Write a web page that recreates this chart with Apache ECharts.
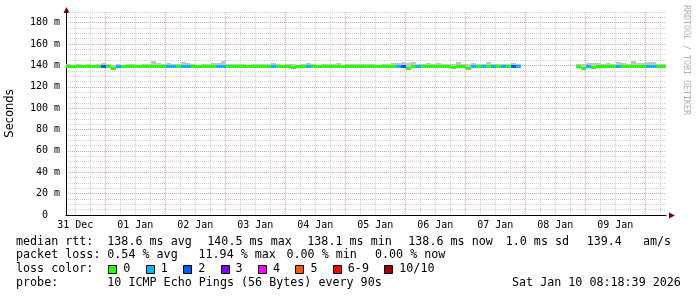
<!DOCTYPE html>
<html>
<head>
<meta charset="utf-8">
<script src="https://cdn.jsdelivr.net/npm/echarts@6/dist/echarts.min.js"></script>
<style>
  html, body { margin: 0; padding: 0; background: #fff; }
  #chart { width: 697px; height: 297px; }
</style>
</head>
<body>
<div id="chart"></div>
<script>
// x values are hours since 31 Dec 00:00, one sample every STEP hours
const START = 8.3
const END = 248.3
const STEP = 2

const dayLabels = ['31 Dec', '01 Jan', '02 Jan', '03 Jan', '04 Jan', '05 Jan', '06 Jan', '07 Jan', '08 Jan', '09 Jan']
const yTicks = [0, 20, 40, 60, 80, 100, 120, 140, 160, 180]

// median rtt (ms), null = no data
const median = [
  138.6, 138.6, 138.7, 138.6, 138.6, 138.6, 138.6, 138.8, 138.6, 137.2,
  138.6, 138.6, 138.6, 138.7, 138.6, 138.6, 138.6, 138.7, 138.6, 138.6,
  138.8, 138.7, 138.6, 138.9, 138.6, 138.6, 138.6, 138.6, 138.7, 138.6,
  138.8, 138.7, 138.6, 138.6, 138.6, 138.6, 138.7, 138.6, 138.6, 138.6,
  138.6, 138.8, 138.6, 138.6, 138.6, 137.7, 138.6, 138.6, 138.8, 138.6,
  138.6, 138.6, 138.6, 138.7, 138.6, 138.6, 138.6, 138.6, 138.7, 138.6,
  138.6, 138.6, 138.6, 138.7, 138.6, 138.6, 138.8, 139.0, 137.2, 138.6,
  138.8, 138.6, 138.6, 138.6, 138.6, 138.7, 138.6, 137.7, 138.6, 138.6,
  137.2, 138.8, 138.6, 138.8, 138.6, 138.8, 138.6, 138.8, 138.6, 139.0,
  138.6, null, null, null, null, null, null, null, null, null,
  null, null, 138.6, 137.2, 138.6, 137.7, 138.6, 138.6, 138.7, 138.6,
  138.8, 138.6, 138.7, 138.6, 138.6, 138.8, 138.8, 138.6, 138.6, 138.6
]

// smoke: lowest and highest ping (ms)
const smokeMin = [
  138.2, 138.1, 138.3, 138.2, 138.2, 138.1, 138.2, 138.3, 138.2, 137.0,
  138.2, 138.1, 138.2, 138.3, 138.2, 138.1, 138.2, 138.2, 138.2, 138.2,
  138.3, 138.2, 138.2, 138.4, 138.2, 138.1, 138.2, 138.2, 138.3, 138.2,
  138.3, 138.2, 138.2, 138.1, 138.2, 138.2, 138.3, 138.2, 138.1, 138.2,
  138.2, 138.3, 138.2, 138.1, 138.2, 137.3, 138.2, 138.2, 138.3, 138.2,
  138.1, 138.2, 138.2, 138.3, 138.2, 138.1, 138.2, 138.2, 138.3, 138.2,
  138.2, 138.1, 138.2, 138.3, 138.2, 138.2, 138.3, 138.5, 137.0, 138.1,
  138.3, 138.2, 138.2, 138.1, 138.2, 138.3, 138.2, 137.3, 138.1, 138.2,
  137.0, 138.3, 138.2, 138.3, 138.2, 138.3, 138.2, 138.3, 138.2, 138.5,
  138.2, null, null, null, null, null, null, null, null, null,
  null, null, 138.2, 137.0, 138.2, 137.3, 138.2, 138.1, 138.3, 138.2,
  138.3, 138.2, 138.3, 138.2, 138.2, 138.3, 138.3, 138.2, 138.2, 138.2
]
const smokeMax = [
  141.0, 140.6, 141.4, 140.8, 141.1, 140.5, 141.5, 142.0, 140.9, 140.6,
  141.3, 140.8, 141.0, 141.6, 140.7, 141.1, 141.2, 143.8, 142.7, 141.0,
  142.2, 141.4, 140.9, 143.4, 141.8, 141.0, 140.7, 141.3, 140.9, 142.0,
  142.5, 143.8, 141.0, 141.2, 140.9, 141.6, 140.8, 141.0, 141.7, 140.9,
  141.1, 141.8, 140.9, 140.7, 141.4, 141.0, 140.8, 141.3, 141.9, 140.9,
  140.8, 141.5, 141.0, 140.9, 142.2, 140.7, 141.0, 141.4, 140.9, 141.1,
  141.6, 140.9, 140.7, 141.2, 141.0, 141.8, 142.1, 143.5, 142.2, 143.4,
  141.3, 141.0, 141.8, 140.9, 142.4, 141.1, 141.7, 141.0, 143.2, 141.5,
  140.9, 141.8, 141.3, 141.0, 143.3, 141.7, 141.1, 141.4, 141.0, 142.2,
  141.2, null, null, null, null, null, null, null, null, null,
  null, null, 141.0, 141.6, 142.2, 142.4, 141.8, 141.4, 142.1, 141.0,
  143.3, 142.7, 141.6, 144.6, 142.0, 141.8, 143.5, 142.8, 141.6, 141.1
]

// lost pings out of 10 per sample
const loss = [
  0, 0, 0, 0, 0, 0, 0, 2, 0, 0,
  1, 0, 0, 0, 0, 0, 0, 0, 0, 0,
  1, 1, 0, 1, 1, 0, 0, 0, 0, 0,
  1, 1, 0, 0, 0, 0, 0, 0, 0, 0,
  0, 1, 0, 0, 0, 0, 0, 0, 1, 0,
  0, 0, 0, 0, 0, 0, 0, 0, 0, 0,
  0, 0, 0, 0, 0, 0, 1, 2, 0, 0,
  1, 0, 0, 0, 0, 0, 0, 0, 0, 0,
  0, 1, 0, 1, 0, 1, 0, 1, 0, 2,
  1, null, null, null, null, null, null, null, null, null,
  null, null, 0, 0, 1, 0, 0, 0, 0, 0,
  1, 0, 0, 0, 0, 0, 1, 1, 0, 0
]

const lossLabels = ['0', '1', '2', '3', '4', '5', '6-9', '10/10']
const lossColors = ['#26ff00', '#00b8ff', '#0059ff', '#7e00ff', '#ff00ff', '#ff5500', '#ff0000', '#a10000']

const rttStats = ['138.6 ms avg', '140.5 ms max', '138.1 ms min', '138.6 ms now', '1.0 ms sd', '139.4   am/s']
const lossStats = ['0.54 % avg', '11.94 % max', '0.00 % min', '0.00 % now']
const probeText = '10 ICMP Echo Pings (56 Bytes) every 90s'
const stamp = 'Sat Jan 10 08:18:39 2026'

const MONO = "'DejaVu Sans Mono', monospace"
const MGRID = 'rgba(230, 128, 128, 0.75)'
const GRID = 'rgba(192, 192, 192, 0.75)'
const SMOKE = '#c4c4c4'

const lossIndex = (n) => (n >= 10 ? 7 : n >= 6 ? 6 : n)

// grid positions
const midnights = []
const minorX = []
for (let h = 6; h < END; h += 6) {
  if (h < START) continue
  if (h % 24 === 0) midnights.push(h)
  else minorX.push(h)
}
const noons = dayLabels.map((_, i) => i * 24 + 12)
const minorY = []
for (let v = 5; v <= 190; v += 5) if (v % 20 !== 0) minorY.push(v)

const smokeData = []
const medianData = []
median.forEach((m, i) => {
  if (m == null) return
  const t = START + i * STEP
  smokeData.push([t, smokeMin[i], smokeMax[i]])
  medianData.push([t, m, loss[i]])
})

const chart = echarts.init(document.getElementById('chart'))

// legend / text block below the plot
const text = (x, y, s, size = 11.7) => ({
  type: 'text', x, y,
  style: { text: s, fontFamily: MONO, fontSize: size, fill: '#000', verticalAlign: 'middle' },
})
const graphics = [
  text(16, 241.5, 'median rtt:'),
  text(16, 255, 'packet loss:'),
  text(16, 269, 'loss color:'),
  text(16, 283, 'probe:'),
  text(107.3, 283, probeText),
  text(512, 283, stamp),
]
const rttX = [107.3, 207.3, 307.3, 408.3, 505.7, 586.7]
rttStats.forEach((s, i) => graphics.push(text(rttX[i], 241.5, s)))
const lossX = [107.3, 198.5, 286.5, 375]
lossStats.forEach((s, i) => graphics.push(text(lossX[i], 255, s)))
let bx = 108.3
lossLabels.forEach((l, i) => {
  graphics.push({
    type: 'rect',
    shape: { x: Math.round(bx) + 0.5, y: 265.5, width: 8, height: 8 },
    style: { fill: lossColors[i], stroke: '#000', lineWidth: 1 },
  })
  graphics.push(text(bx + 15, 269, l))
  bx += 15 + l.length * 7.02 + 15.4
})
// axis arrows
graphics.push({ type: 'polygon', shape: { points: [[66.5, 7], [63.5, 13], [69.5, 13]] }, style: { fill: '#800000' } })
graphics.push({ type: 'polygon', shape: { points: [[675, 215.5], [669, 212.5], [669, 218.5]] }, style: { fill: '#800000' } })
// side credit
graphics.push({
  type: 'text', x: 686, y: 60, rotation: -Math.PI / 2,
  style: { text: 'RRDTOOL / TOBI OETIKER', fontFamily: MONO, fontSize: 8.3, fill: '#b0b0b0', align: 'center', verticalAlign: 'middle' },
})

chart.setOption({
  animation: false,
  backgroundColor: '#fff',
  grid: { left: 66, right: 31, top: 12, bottom: 82, outerBoundsMode: 'none' },
  xAxis: [
    {
      type: 'value', min: START, max: END, position: 'bottom',
      axisLine: { show: true, onZero: false, lineStyle: { color: '#000', width: 1 } },
      axisTick: { show: false, customValues: midnights },
      axisLabel: {
        customValues: noons,
        formatter: (v) => dayLabels[Math.floor(v / 24)],
        fontFamily: MONO, fontSize: 10, color: '#000', margin: 5,
      },
      splitLine: { show: true, lineStyle: { color: MGRID, width: 1, type: [1, 1] } },
    },
    {
      type: 'value', min: START, max: END, position: 'top',
      axisLine: { show: false },
      axisTick: { show: false, customValues: minorX },
      axisLabel: { show: false },
      splitLine: { show: true, lineStyle: { color: GRID, width: 1, type: [1, 1] } },
    },
  ],
  yAxis: [
    {
      type: 'value', min: 0, max: 190,
      name: 'Seconds', nameLocation: 'middle', nameGap: 50,
      nameTextStyle: { fontFamily: "'DejaVu Sans', sans-serif", fontSize: 11.5, color: '#000' },
      axisLine: { show: true, lineStyle: { color: '#000', width: 1 } },
      axisTick: { show: false, customValues: yTicks },
      axisLabel: {
        customValues: yTicks,
        formatter: (v) => (v === 0 ? '0  ' : v + ' m'),
        fontFamily: MONO, fontSize: 10, color: '#000', margin: 6,
      },
      splitLine: { show: true, lineStyle: { color: MGRID, width: 1, type: [1, 1] } },
    },
    {
      type: 'value', min: 0, max: 190, position: 'right',
      axisLine: { show: false },
      axisTick: { show: false, customValues: minorY },
      axisLabel: { show: false },
      splitLine: { show: true, lineStyle: { color: GRID, width: 1, type: [1, 1] } },
    },
  ],
  series: [
    {
      type: 'custom', name: 'smoke', xAxisIndex: 0, yAxisIndex: 0,
      data: smokeData, encode: { x: 0, y: [1, 2] },
      renderItem: (params, api) => {
        const t = api.value(0)
        const top = api.coord([t, api.value(2)])
        const bot = api.coord([t + STEP, api.value(1)])
        return {
          type: 'rect',
          shape: { x: Math.round(top[0]), y: Math.round(top[1]), width: Math.round(bot[0]) - Math.round(top[0]), height: Math.round(bot[1]) - Math.round(top[1]) },
          style: { fill: SMOKE },
        }
      },
    },
    {
      type: 'custom', name: 'median', xAxisIndex: 0, yAxisIndex: 0,
      data: medianData, encode: { x: 0, y: 1 },
      renderItem: (params, api) => {
        const t = api.value(0)
        const a = api.coord([t, api.value(1)])
        const b = api.coord([t + STEP, api.value(1)])
        return {
          type: 'rect',
          shape: { x: Math.round(a[0]), y: Math.round(a[1] - 1.5), width: Math.round(b[0]) - Math.round(a[0]), height: 3 },
          style: { fill: lossColors[lossIndex(api.value(2))] },
        }
      },
    },
  ],
  graphic: graphics,
})
</script>
</body>
</html>
